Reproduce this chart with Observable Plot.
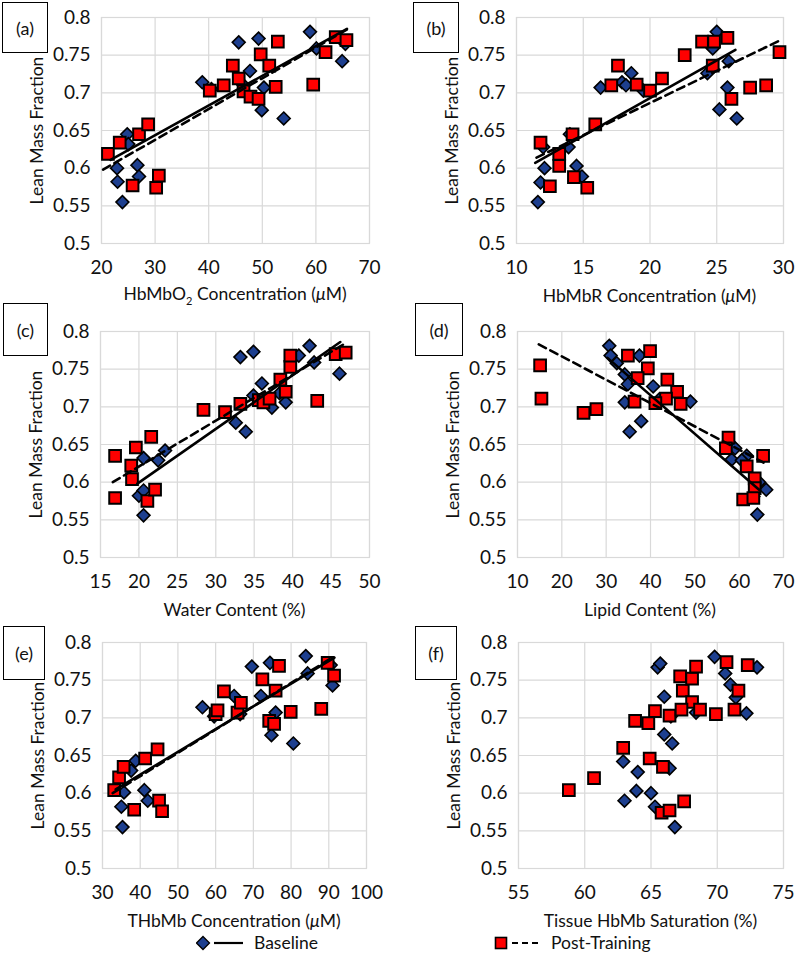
<!DOCTYPE html>
<html><head><meta charset="utf-8">
<script src="https://cdn.jsdelivr.net/npm/d3@7"></script>
<script src="https://cdn.jsdelivr.net/npm/@observablehq/plot@0.6"></script>
<style>
html,body{margin:0;padding:0;background:#fff;}
#root{position:relative;width:796px;height:962px;font-family:Lato,"Open Sans",sans-serif;color:#111;overflow:hidden;}
.panel{position:absolute;}
.tag{position:absolute;border:1.5px solid #000;box-sizing:border-box;background:#fff;display:flex;align-items:center;justify-content:center;font-size:18px;}
.xtitle{position:absolute;transform:translate(-50%,-50%);font-size:17.5px;white-space:nowrap;}
.xtitle sub{font-size:11px;}
.leg{position:absolute;font-size:17.5px;white-space:nowrap;}
</style></head><body><div id="root"></div>
<script>
// ---------- tick labels / categories ----------
const yTicks = [0.5, 0.55, 0.6, 0.65, 0.7, 0.75, 0.8];
const xTicksA = [20, 30, 40, 50, 60, 70];
const xTicksB = [10, 15, 20, 25, 30];
const xTicksC = [15, 20, 25, 30, 35, 40, 45, 50];
const xTicksD = [10, 20, 30, 40, 50, 60, 70];
const xTicksE = [30, 40, 50, 60, 70, 80, 90, 100];
const xTicksF = [55, 60, 65, 70, 75];
const panelTags = ["(a)", "(b)", "(c)", "(d)", "(e)", "(f)"];
const xTitles = [
  "HbMbO<sub>2</sub> Concentration (<i>μ</i>M)",
  "HbMbR Concentration (<i>μ</i>M)",
  "Water Content (%)",
  "Lipid Content (%)",
  "THbMb Concentration (<i>μ</i>M)",
  "Tissue HbMb Saturation (%)"
];
const yTitle = "Lean Mass Fraction";
const seriesNames = ["Baseline", "Post-Training"];

// ---------- series values [x, lean mass fraction] ----------
const aBaseline = [[38.8,0.714],[40.5,0.705],[45.6,0.767],[46.5,0.710],[47.7,0.729],[49.3,0.772],[49.9,0.677],[50.3,0.707],[54.0,0.666],[58.9,0.781],[60.1,0.759],[64.9,0.742],[65.5,0.765],[22.9,0.600],[23.0,0.582],[23.9,0.555],[24.8,0.645],[25.0,0.632],[26.7,0.604],[27.0,0.589]];
const aPost = [[21.2,0.619],[23.4,0.634],[27.0,0.645],[28.7,0.658],[25.8,0.577],[30.2,0.574],[30.7,0.590],[40.2,0.703],[42.8,0.710],[44.5,0.736],[45.6,0.719],[46.5,0.702],[47.8,0.695],[49.3,0.692],[49.7,0.751],[51.3,0.736],[52.5,0.708],[52.9,0.768],[59.5,0.711],[61.8,0.754],[63.7,0.774],[65.7,0.770]];
const aBaseFit = [[21.7,0.611],[65.8,0.785]];
const aPostFit = [[20.3,0.598],[65.8,0.784]];

const bBaseline = [[11.6,0.555],[11.8,0.581],[12.1,0.600],[12.0,0.628],[13.9,0.628],[14.0,0.645],[14.5,0.603],[14.9,0.589],[16.3,0.707],[17.9,0.714],[18.2,0.710],[18.6,0.726],[19.5,0.703],[25.0,0.781],[24.7,0.759],[25.9,0.742],[24.3,0.726],[25.8,0.707],[25.2,0.678],[26.5,0.666]];
const bPost = [[11.8,0.634],[12.5,0.576],[13.2,0.619],[13.2,0.603],[14.2,0.645],[14.3,0.588],[15.3,0.574],[15.9,0.658],[17.6,0.736],[17.1,0.710],[19.0,0.711],[20.0,0.703],[20.9,0.719],[22.6,0.750],[23.9,0.768],[24.8,0.768],[25.8,0.773],[24.7,0.736],[26.1,0.692],[27.5,0.707],[28.7,0.710],[29.7,0.754]];
const bBaseFit = [[11.4,0.607],[26.4,0.757]];
const bPostFit = [[11.5,0.614],[29.9,0.771]];

const cBaseline = [[20.6,0.556],[20.0,0.582],[20.6,0.589],[20.6,0.632],[22.5,0.629],[23.4,0.642],[33.2,0.766],[34.9,0.773],[42.2,0.781],[42.8,0.759],[46.1,0.744],[36.0,0.731],[39.1,0.706],[37.3,0.699],[32.6,0.679],[33.9,0.667],[34.9,0.715],[40.8,0.768],[36.5,0.708],[38.3,0.718]];
const cPost = [[16.9,0.579],[16.9,0.635],[19.0,0.622],[19.1,0.604],[19.6,0.646],[21.6,0.660],[21.1,0.575],[22.1,0.590],[28.4,0.696],[31.2,0.693],[33.2,0.704],[35.6,0.709],[36.2,0.706],[37.0,0.711],[38.4,0.736],[39.1,0.720],[39.7,0.753],[39.7,0.768],[43.2,0.708],[45.6,0.770],[46.9,0.772]];
const cBaseFit = [[19.8,0.598],[46.2,0.786]];
const cPostFit = [[16.6,0.600],[46.8,0.784]];

const dBaseline = [[30.7,0.781],[31.0,0.768],[32.4,0.758],[34.2,0.743],[34.9,0.730],[37.5,0.768],[40.6,0.727],[34.2,0.706],[37.9,0.681],[35.3,0.667],[42.0,0.710],[49.0,0.707],[58.3,0.630],[59.1,0.645],[61.7,0.635],[60.6,0.629],[66.1,0.590],[64.1,0.557],[63.2,0.581],[64.5,0.600]];
const dPost = [[15.1,0.755],[15.4,0.711],[24.9,0.692],[27.8,0.697],[34.9,0.768],[39.9,0.774],[39.4,0.751],[37.1,0.738],[36.4,0.707],[43.8,0.736],[46.0,0.720],[43.5,0.711],[41.1,0.705],[46.8,0.704],[57.6,0.659],[57.0,0.645],[65.4,0.635],[61.7,0.621],[63.5,0.605],[63.5,0.592],[60.9,0.577],[63.2,0.579]];
const dBaseFit = [[30.3,0.765],[64.5,0.590]];
const dPostFit = [[14.8,0.783],[65.5,0.626]];

const eBaseline = [[35.3,0.555],[35.0,0.582],[35.7,0.601],[38.8,0.643],[37.6,0.630],[41.1,0.604],[42.0,0.590],[56.5,0.714],[59.6,0.702],[64.9,0.729],[66.5,0.705],[69.6,0.768],[74.4,0.773],[72.0,0.729],[75.9,0.707],[74.8,0.677],[80.6,0.666],[83.9,0.782],[84.4,0.759],[91.0,0.743],[90.5,0.770]];
const ePost = [[33.1,0.604],[34.4,0.621],[35.6,0.635],[38.4,0.578],[41.3,0.646],[44.6,0.658],[45.0,0.590],[45.8,0.576],[60.0,0.705],[60.5,0.710],[62.2,0.735],[65.8,0.707],[66.7,0.720],[72.4,0.751],[76.8,0.769],[75.9,0.736],[74.2,0.696],[75.5,0.692],[79.9,0.708],[88.0,0.712],[89.7,0.773],[91.4,0.756]];
const eBaseFit = [[33.5,0.605],[91.5,0.780]];
const ePostFit = [[32.7,0.600],[90.6,0.779]];

const fBaseline = [[69.8,0.781],[65.5,0.767],[65.7,0.772],[70.6,0.759],[73.0,0.767],[71.0,0.744],[71.4,0.727],[66.0,0.728],[72.2,0.706],[68.4,0.707],[66.5,0.702],[66.0,0.678],[66.6,0.666],[62.9,0.642],[64.0,0.628],[63.9,0.603],[65.0,0.600],[63.0,0.590],[65.3,0.582],[66.4,0.633],[66.8,0.555]];
const fPost = [[58.8,0.604],[60.7,0.620],[62.9,0.660],[63.8,0.696],[64.8,0.693],[64.9,0.646],[65.9,0.635],[65.3,0.709],[66.4,0.703],[65.8,0.574],[66.4,0.577],[67.5,0.589],[67.2,0.755],[67.4,0.736],[68.1,0.752],[68.4,0.768],[68.1,0.721],[67.3,0.711],[68.7,0.711],[69.9,0.705],[70.7,0.774],[72.3,0.770],[71.6,0.736],[71.3,0.711]];

// ---------- layout ----------
const BLUE = "#1d3f8f", RED = "#ff0000", GRID = "#d9d9d9";
const panels = [
  {tag:0, left:0,   top:0,   ml:101, mr:29, ticks:xTicksA, base:aBaseline, post:aPost, bFit:aBaseFit, pFit:aPostFit, box:[2,2,46,51]},
  {tag:1, left:398, top:0,   ml:118, mr:13, ticks:xTicksB, base:bBaseline, post:bPost, bFit:bBaseFit, pFit:bPostFit, box:[413,2,46,51]},
  {tag:2, left:0,   top:314, ml:100, mr:29, ticks:xTicksC, base:cBaseline, post:cPost, bFit:cBaseFit, pFit:cPostFit, box:[3,303,45,53]},
  {tag:3, left:398, top:314, ml:119, mr:13, ticks:xTicksD, base:dBaseline, post:dPost, bFit:dBaseFit, pFit:dPostFit, box:[415,303,48,53]},
  {tag:4, left:0,   top:625, ml:102, mr:32, ticks:xTicksE, base:eBaseline, post:ePost, bFit:eBaseFit, pFit:ePostFit, box:[3,626,42,54]},
  {tag:5, left:398, top:625, ml:120, mr:13, ticks:xTicksF, base:fBaseline, post:fPost, bFit:null, pFit:null, box:[415,626,42,54]}
];

const root = document.getElementById("root");
const W = 398, H = 310, MT = 17, MB = 67;
const toObj = arr => arr.map(([x, y]) => ({x, y}));

panels.forEach((p, i) => {
  const marks = [
    Plot.gridX(p.ticks, {stroke: GRID, strokeOpacity: 1, strokeWidth: 1.2}),
    Plot.gridY(yTicks, {stroke: GRID, strokeOpacity: 1, strokeWidth: 1.2}),
    Plot.frame({stroke: GRID, strokeWidth: 1.2}),
    Plot.axisX(p.ticks, {tickSize: 0, tickPadding: 17, fontSize: 19, label: null, fill: "#111"}),
    Plot.axisY(yTicks, {tickSize: 0, tickPadding: 11, fontSize: 19, label: null, fill: "#111", tickFormat: d => String(d)}),
    Plot.text([yTitle], {frameAnchor: "left", textAnchor: "middle", lineAnchor: "middle", rotate: -90, dx: -64, fontSize: 17.5, fill: "#111"}),
    Plot.dot(toObj(p.base), {x: "x", y: "y", symbol: "diamond2", r: 5.8, fill: BLUE, stroke: "#000", strokeWidth: 1.6}),
    Plot.dot(toObj(p.post), {x: "x", y: "y", symbol: "square", r: 6.6, fill: RED, stroke: "#000", strokeWidth: 2})
  ];
  if (p.bFit) marks.push(Plot.line(toObj(p.bFit), {x: "x", y: "y", stroke: "#000", strokeWidth: 2.6}));
  if (p.pFit) marks.push(Plot.line(toObj(p.pFit), {x: "x", y: "y", stroke: "#000", strokeWidth: 2.6, strokeDasharray: "8,5"}));

  const svg = Plot.plot({
    width: W, height: H,
    marginTop: MT, marginBottom: MB, marginLeft: p.ml, marginRight: p.mr,
    x: {domain: [p.ticks[0], p.ticks[p.ticks.length - 1]]},
    y: {domain: [0.5, 0.8]},
    style: {fontFamily: "Lato, 'Open Sans', sans-serif", background: "transparent", overflow: "visible"},
    marks
  });
  const wrap = document.createElement("div");
  wrap.className = "panel";
  wrap.style.left = p.left + "px";
  wrap.style.top = p.top + "px";
  wrap.appendChild(svg);
  root.appendChild(wrap);

  // x-axis title
  const xt = document.createElement("div");
  xt.className = "xtitle";
  xt.innerHTML = xTitles[i];
  xt.style.left = (p.left + p.ml + (W - p.ml - p.mr) / 2) + "px";
  xt.style.top = (p.top + H - MB + 52) + "px";
  root.appendChild(xt);

  // panel tag box
  const tg = document.createElement("div");
  tg.className = "tag";
  tg.textContent = panelTags[p.tag];
  const [bx, by, bw, bh] = p.box;
  Object.assign(tg.style, {left: bx + "px", top: by + "px", width: bw + "px", height: bh + "px"});
  root.appendChild(tg);
});

// ---------- legend ----------
function addLeg(html, left, top) {
  const d = document.createElement("div");
  d.className = "leg";
  d.innerHTML = html;
  d.style.left = left + "px";
  d.style.top = top + "px";
  root.appendChild(d);
}
addLeg(`<svg width="50" height="16" style="vertical-align:middle"><path d="M7,1.5 L13.5,8 L7,14.5 L0.5,8 Z" fill="${BLUE}" stroke="#000" stroke-width="1.3"/><line x1="18" y1="8" x2="47" y2="8" stroke="#000" stroke-width="2.2"/></svg><span style="margin-left:8px;vertical-align:middle">${seriesNames[0]}</span>`, 196, 930);
addLeg(`<svg width="50" height="16" style="vertical-align:middle"><rect x="1.5" y="2.5" width="11" height="11" fill="${RED}" stroke="#000" stroke-width="1.6"/><line x1="18" y1="8" x2="47" y2="8" stroke="#000" stroke-width="2.2" stroke-dasharray="6,4"/></svg><span style="margin-left:7px;vertical-align:middle">${seriesNames[1]}</span>`, 494, 930);
</script>
</body></html>
